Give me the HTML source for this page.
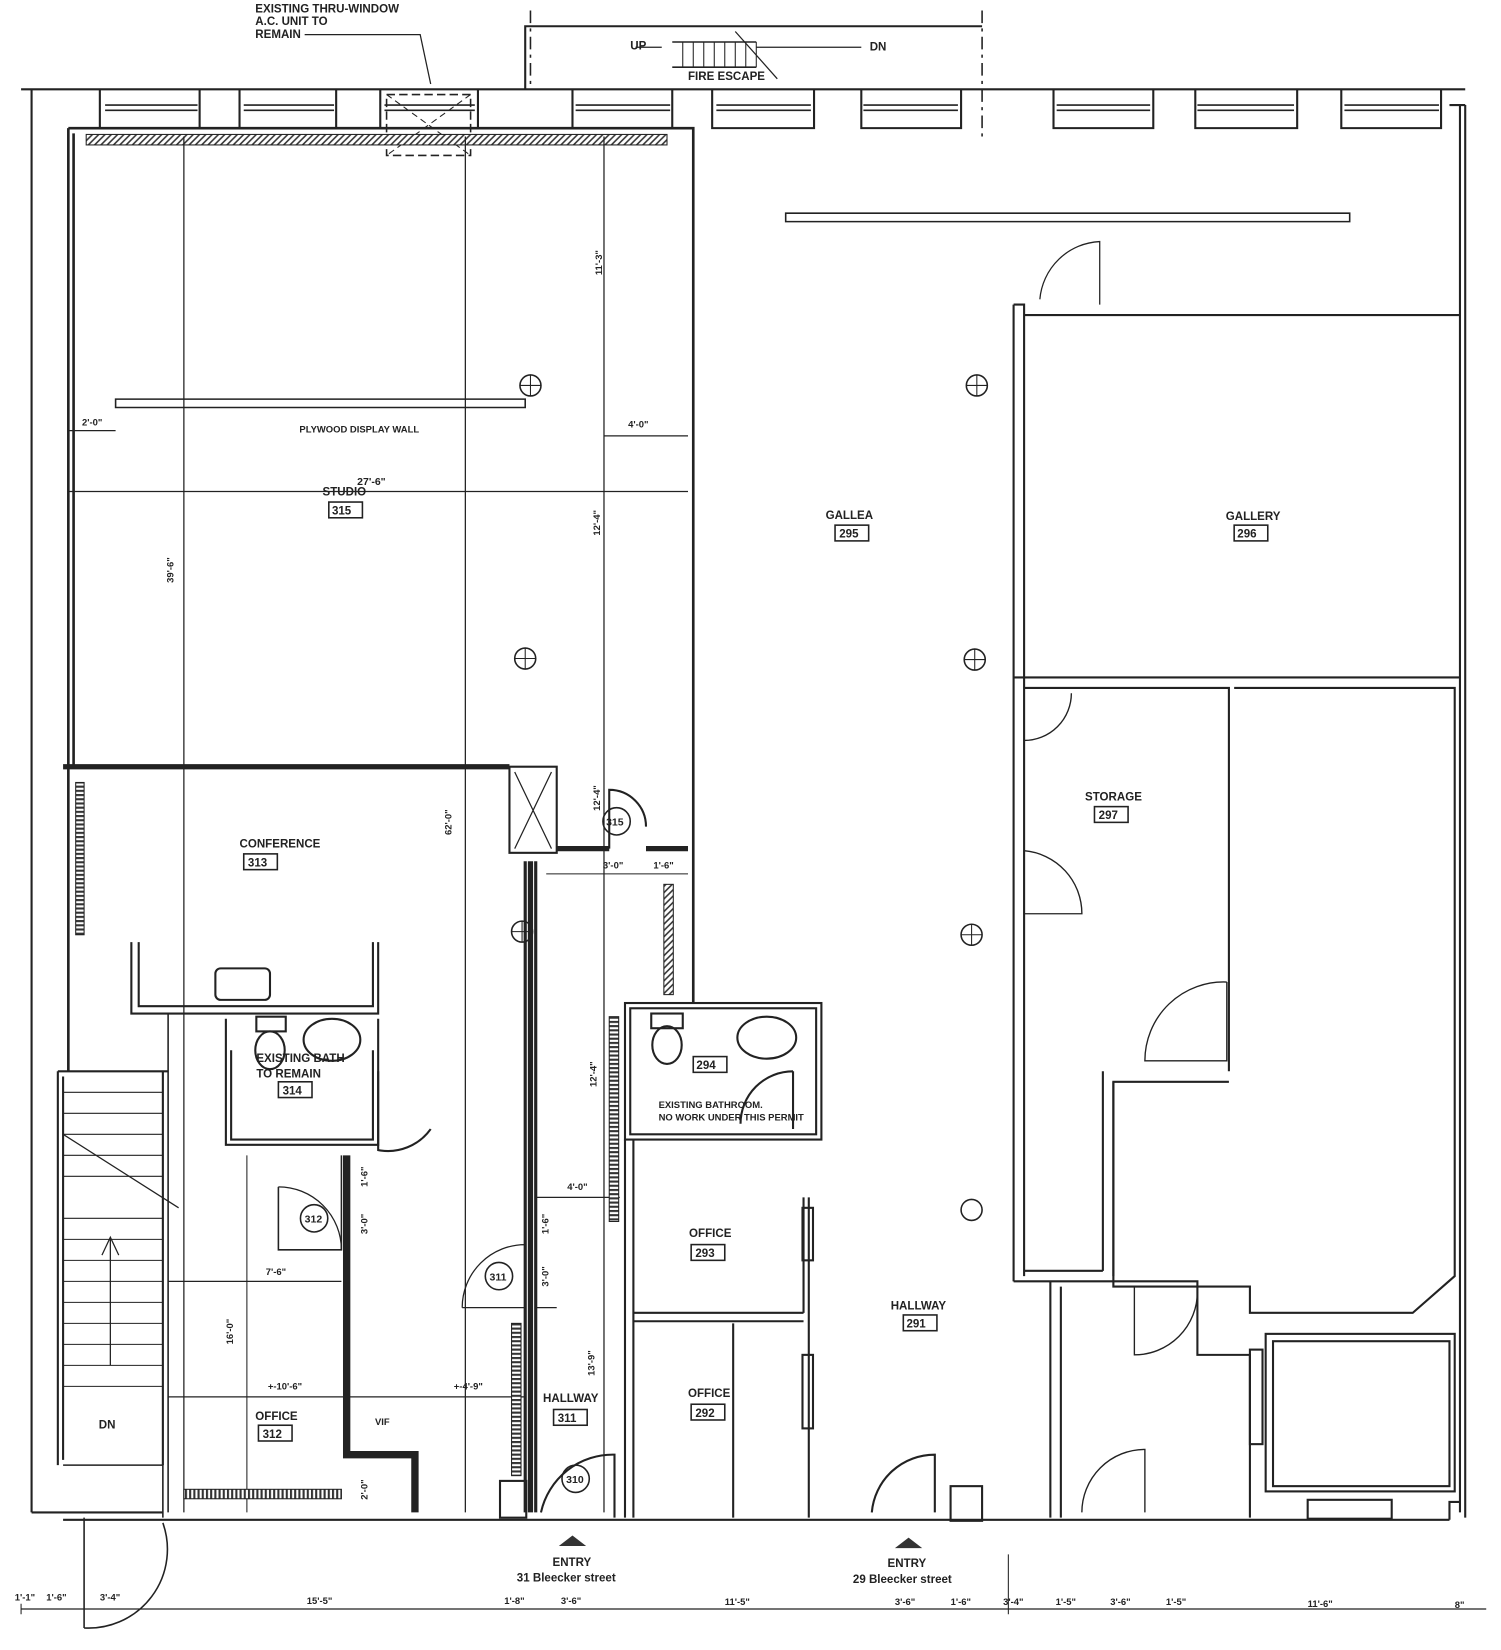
<!DOCTYPE html>
<html><head><style>
html,body{margin:0;padding:0;background:#fff;}
svg{display:block;}
text{font-family:"Liberation Sans",sans-serif;font-weight:bold;fill:#222;}
</style></head><body>
<svg width="1501" height="1650" viewBox="0 0 1429 1571" xmlns="http://www.w3.org/2000/svg">
<defs>
<pattern id="hat" width="6" height="6" patternUnits="userSpaceOnUse"><rect width="6" height="6" fill="#fff"/><path d="M0 6L6 0M-1 1L1 -1M5 7L7 5" stroke="#333" stroke-width="1.5"/></pattern>
<pattern id="rad" width="4" height="10" patternUnits="userSpaceOnUse"><rect width="4" height="10" fill="#fff"/><rect width="2" height="10" fill="#333"/></pattern>
<pattern id="radv" width="10" height="4" patternUnits="userSpaceOnUse"><rect width="10" height="4" fill="#fff"/><rect width="10" height="2" fill="#333"/></pattern>
</defs>
<g fill="none" stroke="#222" stroke-width="2">
<path d="M500 85V25H935"/>
<path d="M505 10V85M935 10V130" stroke-dasharray="12 5 3 5" stroke-width="1.5"/>
<path d="M640 40H720M640 64H720" stroke-width="1.5"/>
<path d="M650 40V64M660 40V64M670 40V64M680 40V64M690 40V64M700 40V64M710 40V64M720 40V64" stroke-width="1"/>
<path d="M700 30L740 75M720 45H820M605 45H630" stroke-width="1.2"/>
<path d="M20 85H1395M30 85V1440"/>
<path d="M95 85V122H190V85M228 85V122H320V85M362 85V122H455V85M545 85V122H640V85M678 85V122H775V85M820 85V122H915V85M1003 85V122H1098V85M1138 85V122H1235V85M1277 85V122H1372V85"/>
<g stroke-width="1.5"><path d="M100 100H188M100 105H188M232 100H318M232 105H318M366 100H452M366 105H452M548 100H638M548 105H638M682 100H772M682 105H772M822 100H912M822 105H912M1006 100H1095M1006 105H1095M1140 100H1232M1140 105H1232M1280 100H1370M1280 105H1370"/></g>
<path d="M368 90H448V148H368Z" stroke-dasharray="8 4" stroke-width="1.5"/>
<path d="M368 90L448 148M448 90L368 148" stroke-dasharray="6 4" stroke-width="1"/>
<path d="M290 33H400L410 80" stroke-width="1.2"/>
<path d="M1390 100V1440M1395 100V1445M1395 100H1380"/>
<path d="M30 1440H155M60 1447H1380M1380 1447V1430H1390"/>
<path d="M65 122H660V955M70 127V728M65 122V1020" stroke-width="2.5"/>
<rect x="82" y="128" width="553" height="10" fill="url(#hat)" stroke-width="1"/>
<path d="M175 130V1440M443 130V1440M575 130V1440" stroke-width="1.2"/>
<path d="M110 380H500V388H110Z" stroke-width="1.5"/>
<path d="M65 468H655M65 410H110M575 415H655" stroke-width="1.2"/>
<path d="M60 730H485" stroke-width="5"/>
<rect x="485" y="730" width="45" height="82"/>
<path d="M490 735L525 808M525 735L490 808" stroke-width="1.2"/>
<path d="M530 808H580M615 808H655" stroke-width="5"/>
<path d="M580 808V752A35 35 0 0 1 615 787"/>
<rect x="72" y="745" width="8" height="145" fill="url(#radv)" stroke-width="1"/>
<path d="M125 897V965H360V897M132 897V958H355V897" stroke-width="2"/>
<rect x="205" y="922" width="52" height="30" rx="5"/>
<path d="M215 970V1090H360V970M220 1000V1085H355V1000"/>
<ellipse cx="316" cy="990" rx="27" ry="20"/>
<ellipse cx="257" cy="1000" rx="14" ry="18"/>
<rect x="244" y="968" width="28" height="14"/>
<path d="M360 1020V1095A50 50 0 0 0 410 1075"/>
<path d="M160 965V1440" stroke-width="1.5"/>
<path d="M55 1020H160M55 1020V1395M155 1020V1395M60 1025V1390"/>
<path d="M60 1040H155M60 1060H155M60 1080H155M60 1100H155M60 1120H155M60 1160H155M60 1180H155M60 1200H155M60 1220H155M60 1240H155M60 1260H155M60 1280H155M60 1300H155M60 1320H155" stroke-width="1"/>
<path d="M60 1080L170 1150M105 1300V1180M97 1195L105 1178L113 1195" stroke-width="1.2"/>
<path d="M60 1395H155V1445M80 1445V1550M80 1550A75 75 0 0 0 155 1450" stroke-width="1.5"/>
<path d="M330 1100V1385H395V1440" stroke-width="7"/>
<path d="M325 1100V1190H265V1130" stroke-width="1.5"/>
<path d="M265 1130A60 60 0 0 1 325 1190" stroke-width="1.2"/>
<path d="M235 1100V1440" stroke-width="1"/>
<path d="M160 1220H325M160 1330H500" stroke-width="1.2"/>
<rect x="175" y="1418" width="150" height="9" fill="url(#rad)" stroke-width="1"/>
<path d="M500 820V1440M510 820V1440" stroke-width="3"/>
<path d="M505 820V1440" stroke-width="5"/>
<rect x="476" y="1410" width="25" height="35"/>
<path d="M440 1245H500V1185A60 60 0 0 0 440 1245" stroke-width="1.2"/>
<path d="M515 1440A70 70 0 0 1 585 1385V1445"/>
<path d="M510 1140H590M510 1245H530" stroke-width="1.2"/>
<rect x="487" y="1260" width="9" height="145" fill="url(#radv)" stroke-width="1"/>
<rect x="632" y="842" width="9" height="105" fill="url(#hat)" stroke-width="1"/>
<rect x="580" y="968" width="9" height="195" fill="url(#radv)" stroke-width="1"/>
<path d="M520 832H655" stroke-width="1"/>
<rect x="595" y="955" width="187" height="130"/><rect x="600" y="960" width="177" height="120"/>
<ellipse cx="730" cy="988" rx="28" ry="20"/><ellipse cx="635" cy="995" rx="14" ry="18"/><rect x="620" y="965" width="30" height="14"/>
<path d="M755 1020V1075M755 1020A50 50 0 0 0 705 1070"/>
<path d="M595 1085V1445M603 1085V1445"/>
<path d="M603 1250H765M603 1258H765M770 1140V1445M765 1140V1250M698 1260V1445"/>
<rect x="764" y="1150" width="10" height="50"/><rect x="764" y="1290" width="10" height="70"/>
<path d="M830 1440A60 60 0 0 1 890 1385V1440"/>
<rect x="905" y="1415" width="30" height="33"/>
<path d="M748 203H1285V211H748Z" stroke-width="1.5"/>
<path d="M1047 290V230A60 60 0 0 0 990 285" stroke-width="1.2"/>
<path d="M965 290H975V1215M965 290V1220M975 300H1390" stroke-width="2"/>
<path d="M965 645H1390M975 655H1170V1020M1175 655H1385V1215L1345 1250H1190V1225H1060V1030H1170" stroke-width="2"/>
<path d="M975 665V705A45 45 0 0 0 1020 660M975 810V870H1030A60 60 0 0 0 975 810M1168 935V1010H1090A75 75 0 0 1 1168 935" stroke-width="1.3"/>
<path d="M1050 1020V1210M1060 1030V1215M975 1210H1050M965 1220H1000V1445M1010 1225V1445M1000 1220H1140V1290H1190V1445" stroke-width="2"/>
<path d="M1080 1225V1290A60 60 0 0 0 1140 1230M1030 1440A60 60 0 0 1 1090 1380V1440" stroke-width="1.3"/>
<rect x="1205" y="1270" width="180" height="150"/><rect x="1212" y="1277" width="168" height="138"/>
<rect x="1245" y="1428" width="80" height="18"/>
<rect x="1190" y="1285" width="12" height="90"/>
<g stroke-width="1.5"><circle cx="505" cy="367" r="10"/><circle cx="500" cy="627" r="10"/><circle cx="497" cy="887" r="10"/><circle cx="930" cy="367" r="10"/><circle cx="928" cy="628" r="10"/><circle cx="925" cy="890" r="10"/><circle cx="925" cy="1152" r="10"/></g>
<path d="M495 367H515M505 357V377M490 627H510M500 617V637M487 887H507M497 877V897M920 367H940M930 357V377M918 628H938M928 618V638M915 890H935M925 880V900" stroke-width="1"/>
<path d="M20 1532H1415" stroke-width="1.2"/>
<path d="M20 1527V1537M960 1480V1537" stroke-width="1"/>
<g stroke-width="1.5"><rect x="313" y="478" width="32" height="15"/><rect x="795" y="500" width="32" height="15"/><rect x="1175" y="500" width="32" height="15"/><rect x="1042" y="768" width="32" height="15"/><rect x="232" y="813" width="32" height="15"/><rect x="265" y="1030" width="32" height="15"/><rect x="660" y="1006" width="32" height="15"/><rect x="658" y="1185" width="32" height="15"/><rect x="860" y="1252" width="32" height="15"/><rect x="658" y="1337" width="32" height="15"/><rect x="527" y="1342" width="32" height="15"/><rect x="246" y="1357" width="32" height="15"/></g>
<g stroke-width="1.5"><circle cx="587" cy="782" r="13"/><circle cx="299" cy="1160" r="13"/><circle cx="475" cy="1215" r="13"/><circle cx="548" cy="1408" r="13"/></g>
</g>
<path d="M532 1472L545 1462L558 1472Z M852 1474L865 1464L878 1474Z" fill="#333"/>
<g font-size="11">
<text x="243" y="12">EXISTING THRU-WINDOW</text><text x="243" y="24">A.C. UNIT TO</text><text x="243" y="36">REMAIN</text>
<text x="600" y="47">UP</text><text x="828" y="48">DN</text><text x="655" y="76">FIRE ESCAPE</text>
<text x="285" y="412" font-size="9">PLYWOOD DISPLAY WALL</text>
<text x="78" y="405" font-size="9">2'-0"</text><text x="598" y="407" font-size="9">4'-0"</text>
<text x="340" y="462" font-size="10">27'-6"</text>
<text x="307" y="472">STUDIO</text><text x="316" y="490">315</text>
<text x="786" y="494">GALLEA</text><text x="799" y="512">295</text>
<text x="1167" y="495">GALLERY</text><text x="1178" y="512">296</text>
<text x="1033" y="762">STORAGE</text><text x="1046" y="780">297</text>
<text x="228" y="807">CONFERENCE</text><text x="236" y="825">313</text>
<text x="244" y="1011">EXISTING BATH</text><text x="244" y="1026">TO REMAIN</text><text x="269" y="1042">314</text>
<text x="663" y="1018">294</text>
<text x="627" y="1055" font-size="9">EXISTING BATHROOM.</text><text x="627" y="1067" font-size="9">NO WORK UNDER THIS PERMIT</text>
<text x="656" y="1178">OFFICE</text><text x="662" y="1197">293</text>
<text x="848" y="1247">HALLWAY</text><text x="863" y="1264">291</text>
<text x="655" y="1330">OFFICE</text><text x="662" y="1349">292</text>
<text x="517" y="1335">HALLWAY</text><text x="531" y="1354">311</text>
<text x="243" y="1352">OFFICE</text><text x="250" y="1369">312</text>
<text x="94" y="1360">DN</text><text x="357" y="1357" font-size="9">VIF</text>
<text x="577" y="786" font-size="10">315</text><text x="290" y="1164" font-size="10">312</text><text x="466" y="1219" font-size="10">311</text><text x="539" y="1412" font-size="10">310</text>
<text x="526" y="1491">ENTRY</text><text x="492" y="1506">31 Bleecker street</text>
<text x="845" y="1492">ENTRY</text><text x="812" y="1507">29 Bleecker street</text>
</g>
<g font-size="9">
<text x="253" y="1214">7'-6"</text><text x="255" y="1323">+-10'-6"</text><text x="432" y="1323">+-4'-9"</text>
<text x="540" y="1133">4'-0"</text><text x="574" y="827">3'-0"</text><text x="622" y="827">1'-6"</text>
<text x="14" y="1524">1'-1"</text><text x="44" y="1524">1'-6"</text><text x="95" y="1524">3'-4"</text><text x="292" y="1527">15'-5"</text><text x="480" y="1527">1'-8"</text><text x="534" y="1527">3'-6"</text><text x="690" y="1528">11'-5"</text><text x="852" y="1528">3'-6"</text><text x="905" y="1528">1'-6"</text><text x="955" y="1528">3'-4"</text><text x="1005" y="1528">1'-5"</text><text x="1057" y="1528">3'-6"</text><text x="1110" y="1528">1'-5"</text><text x="1245" y="1530">11'-6"</text><text x="1385" y="1531">8"</text>
<text transform="translate(165,555) rotate(-90)">39'-6"</text>
<text transform="translate(573,262) rotate(-90)">11'-3"</text>
<text transform="translate(571,510) rotate(-90)">12'-4"</text>
<text transform="translate(430,795) rotate(-90)">62'-0"</text>
<text transform="translate(571,772) rotate(-90)">12'-4"</text>
<text transform="translate(568,1035) rotate(-90)">12'-4"</text>
<text transform="translate(350,1130) rotate(-90)">1'-6"</text>
<text transform="translate(350,1175) rotate(-90)">3'-0"</text>
<text transform="translate(222,1280) rotate(-90)">16'-0"</text>
<text transform="translate(522,1175) rotate(-90)">1'-6"</text>
<text transform="translate(522,1225) rotate(-90)">3'-0"</text>
<text transform="translate(566,1310) rotate(-90)">13'-9"</text>
<text transform="translate(350,1428) rotate(-90)">2'-0"</text>
</g>
</svg>
</body></html>
